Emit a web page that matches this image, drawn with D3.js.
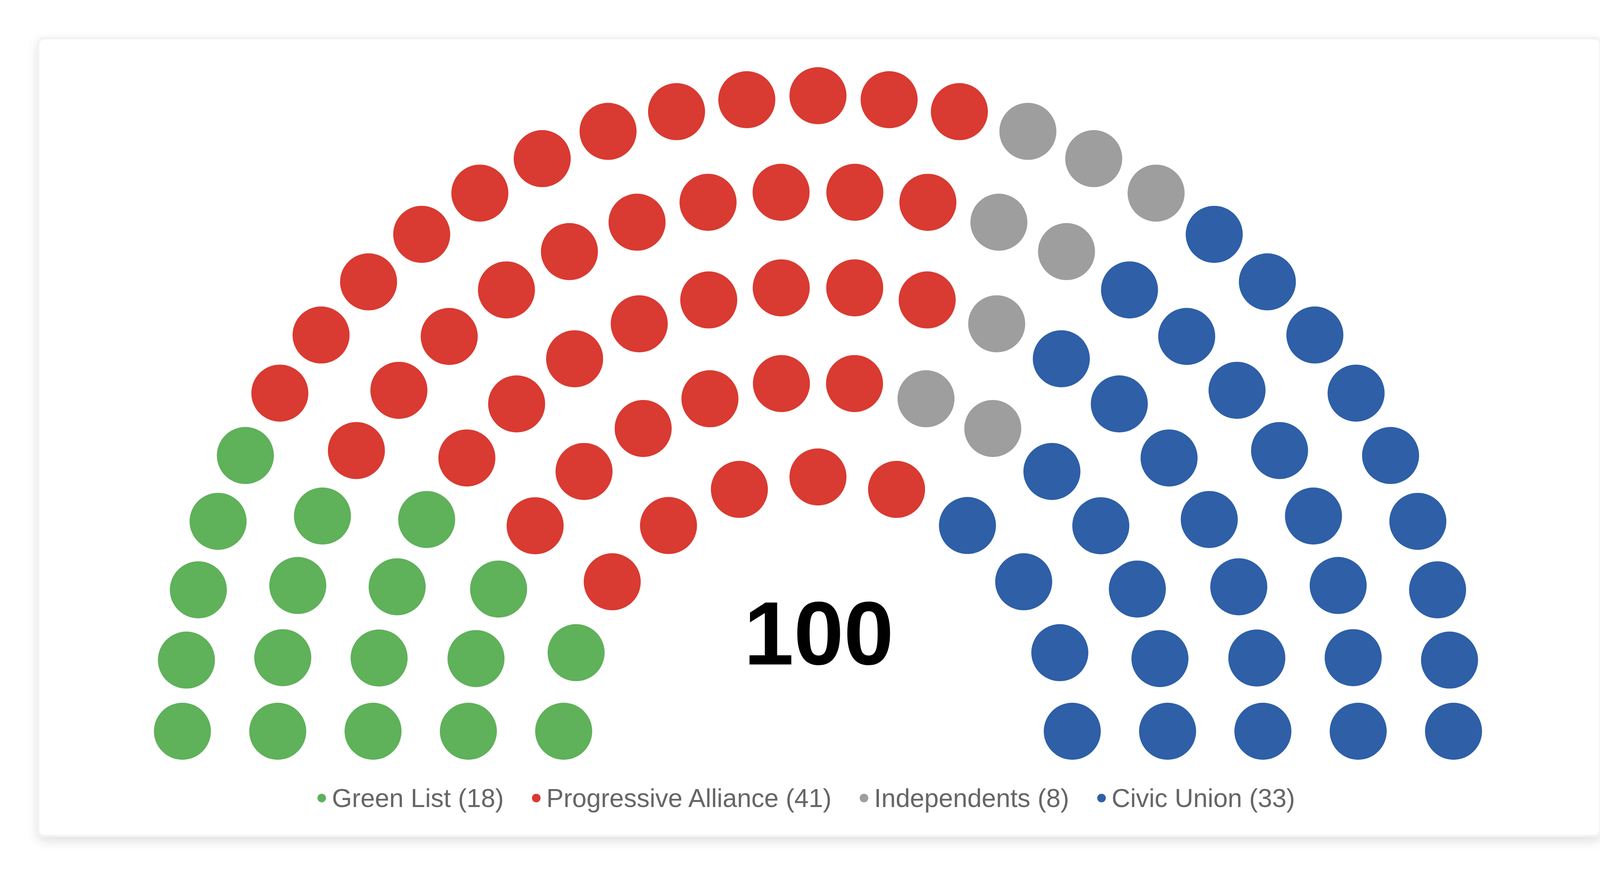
<!DOCTYPE html>
<html>
<head>
<meta charset="utf-8">
<script src="https://cdn.jsdelivr.net/npm/d3@7"></script>
<style>
  html, body { margin: 0; padding: 0; background: #ffffff; }
  body { width: 4192px; height: 2240px; position: relative; overflow: hidden; }
  #card {
    position: absolute; left: 95px; top: 95px; width: 3993px; height: 2036px;
    border-radius: 18px; background: #ffffff; border: 6px solid #f3f3f3;
    box-shadow: 0 10px 28px rgba(0,0,0,0.13);
  }
  svg { position: absolute; left: 0; top: 0; }
</style>
</head>
<body>
<div id="card"></div>
<svg id="chart" width="4192" height="2240"></svg>
<script>
// ---- data ----
const parties = ["Green List", "Progressive Alliance", "Independents", "Civic Union"];
const seats = [18, 41, 8, 33];
const colors = ["#5fb15a", "#d93a31", "#9e9e9e", "#2e5fa7"];
const rowSeats = [11, 16, 20, 24, 29]; // seats per arc, inner to outer
const totalLabel = "100";

// ---- layout ----
const svg = d3.select("#chart");
const cx = 2094, cy = 1872;
const seatR = 73;
const rScale = d3.scaleLinear().domain([0, rowSeats.length - 1]).range([651, 1627]);

// build seat positions
let seatList = [];
rowSeats.forEach((n, row) => {
  const aScale = d3.scaleLinear().domain([0, n - 1]).range([Math.PI, 0]);
  d3.range(n).forEach(i => {
    const a = aScale(i);
    seatList.push({ row, angle: a, r: rScale(row) });
  });
});
// order by angle left->right, inner row first on ties
seatList.sort((p, q) => {
  const d = q.angle - p.angle;
  if (Math.abs(d) > 1e-9) return d;
  return p.row - q.row;
});
// assign parties sequentially
const cum = d3.cumsum(seats);
seatList.forEach((s, k) => {
  s.party = cum.findIndex(c => k < c);
});

const color = d3.scaleOrdinal().domain(d3.range(parties.length)).range(colors);

svg.append("g").selectAll("circle")
  .data(seatList)
  .join("circle")
  .attr("cx", d => cx + d.r * Math.cos(d.angle))
  .attr("cy", d => cy - d.r * Math.sin(d.angle))
  .attr("r", seatR)
  .attr("fill", d => color(d.party));

// center total
svg.append("text")
  .attr("x", cx + 2)
  .attr("y", 1701)
  .attr("text-anchor", "middle")
  .attr("font-family", "'Liberation Sans', Arial, Helvetica, sans-serif")
  .attr("font-weight", "bold")
  .attr("font-size", 230)
  .attr("fill", "#000000")
  .text(totalLabel);

// legend
const legend = svg.append("g");
const legendY = 2043;
const markerR = 11, textGap = 26, itemGap = 72;
const items = legend.selectAll("g.item")
  .data(parties.map((p, i) => ({ name: `${p} (${seats[i]})`, i })))
  .join("g").attr("class", "item");
items.append("circle")
  .attr("r", markerR)
  .attr("cx", markerR)
  .attr("cy", 0)
  .attr("fill", d => color(d.i));
items.append("text")
  .attr("x", markerR + textGap - markerR)
  .attr("dx", markerR)
  .attr("y", 0)
  .attr("dy", "0.355em")
  .attr("font-family", "'Liberation Sans', Arial, Helvetica, sans-serif")
  .attr("font-size", 66)
  .attr("fill", "#666666")
  .text(d => d.name);

let widths = [];
items.each(function() {
  const t = d3.select(this).select("text").node();
  widths.push(markerR + textGap + t.getComputedTextLength());
});
const total = d3.sum(widths) + itemGap * (widths.length - 1);
let x0 = 2064 - total / 2;
items.attr("transform", (d, i) => {
  const tx = x0;
  x0 += widths[i] + itemGap;
  return `translate(${tx},${legendY})`;
});
</script>
</body>
</html>
